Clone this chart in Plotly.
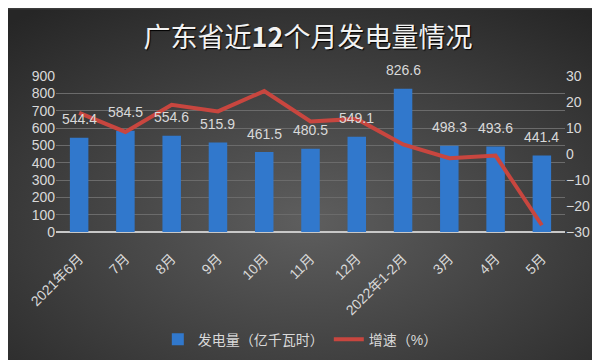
import plotly.graph_objects as go

months = ["2021年6月", "7月", "8月", "9月", "10月", "11月", "12月",
          "2022年1-2月", "3月", "4月", "5月"]
generation = [544.4, 584.5, 554.6, 515.9, 461.5, 480.5, 549.1, 826.6, 498.3, 493.6, 441.4]
growth = [15.8, 8.5, 18.9, 16.4, 24.2, 12.5, 13.5, 3.7, -1.6, -0.6, -27.4]

W, H = 600, 360
ML, MR, MT, MB = 48, 43, 68, 133
PW, PH = W - ML - MR, H - MT - MB

FONT = "Liberation Sans, Noto Sans CJK SC, sans-serif"
TXT = "#d9d9d9"

svg = ("data:image/svg+xml;utf8,"
       "<svg xmlns='http://www.w3.org/2000/svg' width='600' height='360'>"
       "<defs><radialGradient id='g' cx='50%' cy='60%' r='75%'>"
       "<stop offset='0%' stop-color='%235e5e5e'/>"
       "<stop offset='100%' stop-color='%23262626'/>"
       "</radialGradient></defs>"
       "<rect width='600' height='360' fill='url(%23g)'/></svg>")

fig = go.Figure()
fig.add_trace(go.Bar(
    x=months, y=generation, name="发电量（亿千瓦时）",
    marker=dict(color="#3178cc", line=dict(width=0)), width=0.4,
))
fig.add_trace(go.Scatter(
    x=months, y=growth, name="增速（%）", yaxis="y2", mode="lines",
    line=dict(color="#c8463f", width=4),
))

for m, v in zip(months, generation):
    fig.add_annotation(x=m, y=v, text=f"{v:.1f}", showarrow=False,
                       yanchor="middle", yshift=18.5,
                       font=dict(size=14, color=TXT, family=FONT))

fig.update_layout(
    width=W, height=H,
    margin=dict(l=ML, r=MR, t=MT, b=MB),
    paper_bgcolor="#3c3c3c", plot_bgcolor="rgba(0,0,0,0)",
    font=dict(family=FONT, color=TXT, size=13),
    title=dict(text="广东省近<b>12</b>个月发电量情况", x=0.5, xanchor="center",
               y=1 - 30 / H, yanchor="middle",
               font=dict(size=27, color="#f2f2f2",
                         family="Noto Sans CJK SC, sans-serif",
                         shadow="1px 1px 1px #000000")),
    xaxis=dict(tickangle=-45, tickfont=dict(size=14, color=TXT),
               showgrid=False, showline=False, ticks="outside", ticklen=12,
               tickcolor="rgba(0,0,0,0)"),
    yaxis=dict(range=[0, 900], dtick=100, gridcolor="#6b6b6b", gridwidth=1,
               zeroline=True, zerolinecolor="#c8c8c8", zerolinewidth=2,
               tickfont=dict(size=14, color=TXT), showline=False),
    yaxis2=dict(range=[-30, 30], dtick=10, overlaying="y", side="right",
                showgrid=False, zeroline=False, showline=False,
                tickfont=dict(size=14, color=TXT)),
    legend=dict(orientation="h", x=0.48, xanchor="center", y=-0.69, yanchor="middle",
                font=dict(size=14, color=TXT), bgcolor="rgba(0,0,0,0)"),
    showlegend=True,
    images=[dict(source=svg, xref="paper", yref="paper",
                 x=-ML / PW, y=1 + MT / PH, sizex=W / PW, sizey=H / PH,
                 xanchor="left", yanchor="top", sizing="stretch", layer="below")],
)

fig.write_html("out.html")
